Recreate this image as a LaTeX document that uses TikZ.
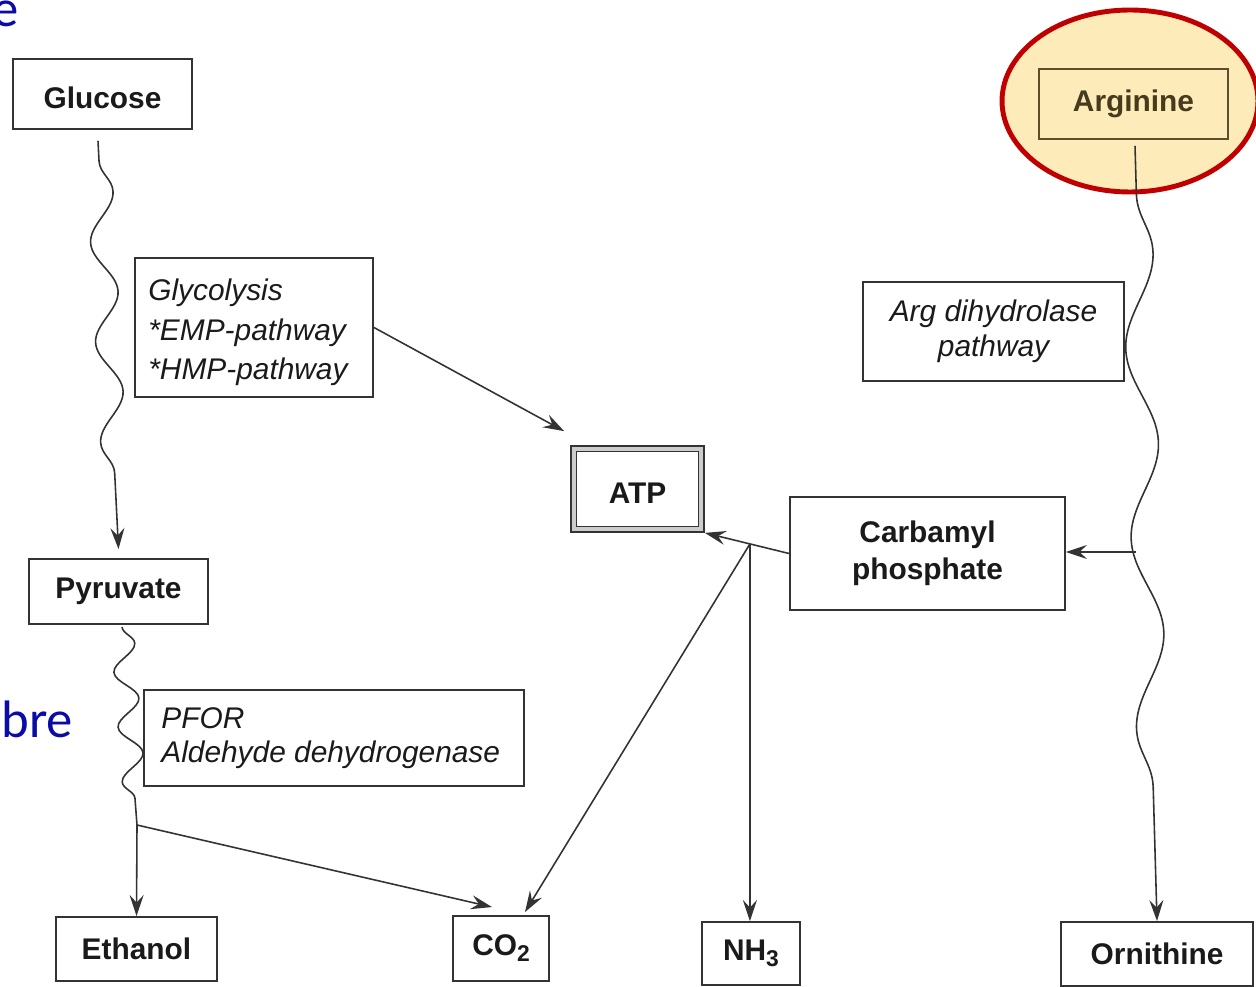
\documentclass[tikz,border=0pt]{standalone}
\usepackage{fontspec}
\setmainfont{Liberation Sans}
\newfontfamily\slidefont{Carlito}
\usetikzlibrary{arrows.meta,decorations.pathmorphing,shapes.geometric,calc}
\definecolor{ln}{HTML}{333333}
\definecolor{tx}{HTML}{1A1A1A}
\definecolor{slideblue}{HTML}{0B0BA5}
\definecolor{hlfill}{HTML}{FDEBB9}
\definecolor{hlred}{HTML}{C00000}
\definecolor{argln}{HTML}{5A4E2C}
\definecolor{argtx}{HTML}{463B1C}
\begin{document}
\begin{tikzpicture}[x=0.02cm,y=-0.02cm,
  box/.style={draw=ln, line width=1.1pt, inner sep=0pt, text=tx,
    font=\fontsize{17}{21}\selectfont\bfseries, align=center},
  lowered/.style={text height=0.58cm, text depth=0pt},
  ibox/.style={draw=ln, line width=1.1pt, inner sep=0pt},
  itext/.style={inner sep=0pt, text=tx, font=\fontsize{17}{21}\selectfont\itshape},
  tip/.style={-{Stealth[length=0.42cm,width=0.28cm,inset=0.15cm]}},
  conn/.style={draw=ln, line width=0.9pt, tip},
  plainline/.style={draw=ln, line width=0.9pt},
  slidetext/.style={anchor=base west, inner sep=0pt, text=slideblue,
    font=\slidefont\fontsize{30}{32}\selectfont},
]
\useasboundingbox (0,0) rectangle (1256,986);
\clip (0,0) rectangle (1256,986);

% slide fragments
\node[slidetext] (fragA) at (-8,27) {e};
\node[slidetext] (fragB) at (1,737) {bre};

% highlight ellipse
\node[ellipse, draw=hlred, line width=2.8pt, fill=hlfill, minimum width=5.12cm,
  minimum height=3.64cm, inner sep=0pt] (hl) at (1130,101) {};

% boxes
\node[box, lowered, minimum width=3.58cm, minimum height=1.40cm] (glucose) at (102.5,94) {Glucose};
\node[ibox, minimum width=4.76cm, minimum height=2.78cm] (glyc) at (254,327.5) {};
\node[itext, anchor=west] (glyc1) at (148,293) {Glycolysis};
\node[itext, anchor=west] (glyc2) at (148,333) {*EMP-pathway};
\node[itext, anchor=west] (glyc3) at (148,372) {*HMP-pathway};
\node[box, minimum width=3.58cm, minimum height=1.30cm] (pyruvate) at (118.5,591.5) {Pyruvate};
\node[ibox, minimum width=7.6cm, minimum height=1.92cm] (pfor) at (334,738) {};
\node[itext, anchor=west] (pfor1) at (161,718) {PFOR};
\node[itext, anchor=west] (pfor2) at (161,755) {Aldehyde dehydrogenase};
\node[ibox, minimum width=5.22cm, minimum height=1.98cm] (argdh) at (993.5,331.5) {};
\node[itext] (argdh1) at (993.5,314) {Arg dihydrolase};
\node[itext] (argdh2) at (993.5,349) {pathway};
\node[box, minimum width=5.5cm, minimum height=2.26cm] (carb) at (927.5,553.5) {Carbamyl\\phosphate};
\node[draw=ln, line width=1pt, fill=gray!40, minimum width=2.66cm, minimum height=1.72cm,
  inner sep=0pt] (atp) at (637.5,489) {};
\node[box, lowered, fill=white, line width=1pt, minimum width=2.44cm, minimum height=1.5cm] (atpin) at (637.5,489) {ATP};
\node[box, minimum width=3.22cm, minimum height=1.28cm] (ethanol) at (136.5,949) {Ethanol};
\node[box, minimum width=1.92cm, minimum height=1.30cm] (co2) at (501,948.5) {CO\raisebox{-0.12cm}{\fontsize{13}{13}\selectfont 2}};
\node[box, minimum width=1.96cm, minimum height=1.26cm] (nh3) at (751,953.5) {NH\raisebox{-0.12cm}{\fontsize{13}{13}\selectfont 3}};
\node[box, minimum width=3.84cm, minimum height=1.28cm] (ornithine) at (1157,954) {Ornithine};
\node[box, draw=argln, text=argtx, minimum width=3.78cm, minimum height=1.4cm] (arginine) at (1133.5,104) {Arginine};

% glucose -> pyruvate (wavy)
\draw[plainline, tip, decorate, decoration={snake, amplitude=0.25cm, segment length=2cm,
  pre length=0.4cm, post length=0.7cm}]
  ([xshift=-0.09cm,yshift=-0.22cm]glucose.south) -- ([yshift=0.18cm]pyruvate.north);

% pyruvate -> junction (wavy)
\coordinate (pj) at (137,825);
\draw[plainline, decorate, decoration={snake, amplitude=0.23cm, segment length=1.1cm}]
  ([xshift=0.07cm,yshift=-0.04cm]pyruvate.south) -- (pj);
\draw[conn] (pj) -- (ethanol.north);
\draw[conn] (pj) -- ([xshift=-0.18cm,yshift=0.16cm]co2.north);

% glycolysis -> ATP
\draw[conn] (glyc.east) -- ([xshift=-0.12cm,yshift=0.28cm]atp.north west);

% carbamyl phosphate -> ATP, NH3, CO2
\draw[conn] (carb.west) -- (atp.south east);
\coordinate (cj) at ($(carb.west)!0.465!(atp.south east)$);
\draw[conn] (cj) -- (cj |- nh3.north);
\draw[conn] (cj) -- ([xshift=0.48cm,yshift=0.06cm]co2.north);

% arginine -> ornithine (wavy)
\draw[plainline, tip, decorate, decoration={snake, amplitude=0.3cm, segment length=3.8cm,
  pre length=0.96cm, post length=1.1cm}]
  ([xshift=0.03cm,yshift=-0.12cm]arginine.south) -- (ornithine.north);
\coordinate (ab) at (1136,552);
\draw[conn] (ab) -- (carb.east |- ab);
\end{tikzpicture}
\end{document}
